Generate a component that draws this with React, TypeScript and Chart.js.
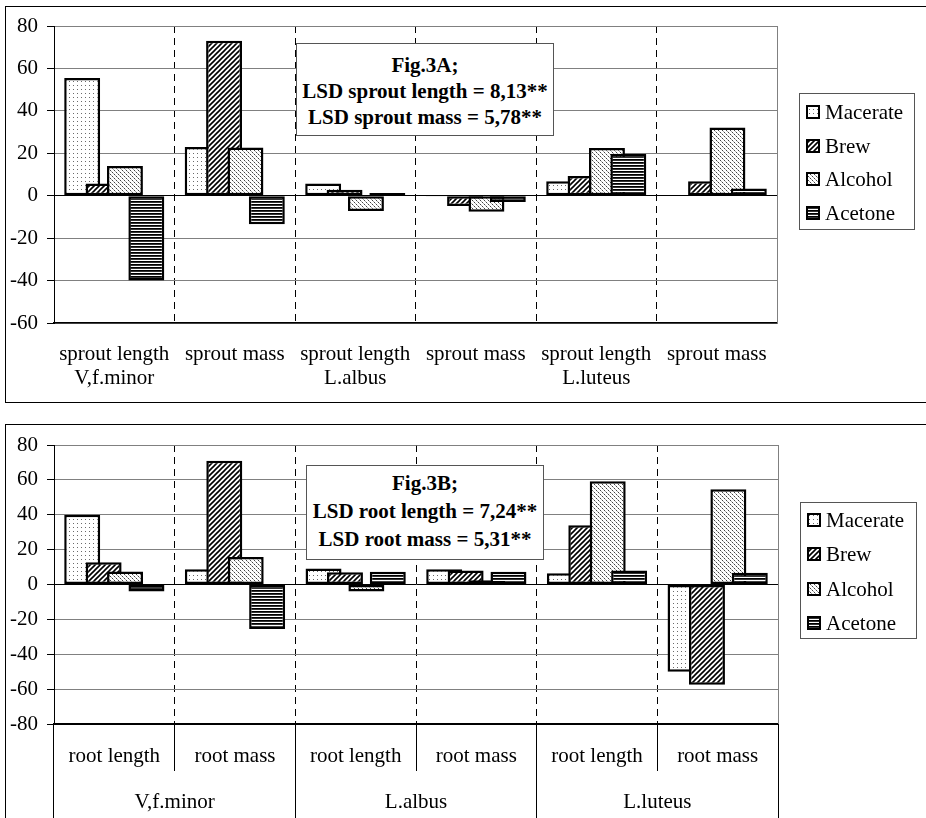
import React, { useEffect, useRef } from 'react';
import { Chart, registerables } from 'chart.js';

Chart.register(...registerables);

// ---------- data ----------
const seriesNames = ['Macerate', 'Brew', 'Alcohol', 'Acetone'];

const topCategories = [
  ['sprout length', 'V,f.minor'],
  ['sprout mass', ''],
  ['sprout length', 'L.albus'],
  ['sprout mass', ''],
  ['sprout length', 'L.luteus'],
  ['sprout mass', ''],
];
const topMacerate = [55.5, 23, 5.8, -0.4, 6.8, 0.3];
const topBrew = [5.8, 73, 2.8, -4.9, 9.3, 6.8];
const topAlcohol = [14, 22.7, -7.2, -7.6, 22.5, 32.2];
const topAcetone = [-40, -13.5, 1.3, -3, 19.8, 3.4];
const topYMin = -60;
const topYMax = 80;
const topNote = ['Fig.3A;', 'LSD sprout length = 8,13**', 'LSD sprout mass = 5,78**'];

const bottomCategories = ['root length', 'root mass', 'root length', 'root mass', 'root length', 'root mass'];
const bottomGroups = ['V,f.minor', 'L.albus', 'L.luteus'];
const bottomMacerate = [40, 8.8, 9.2, 8.8, 6.5, -50];
const bottomBrew = [12.7, 71, 7, 8, 34, -57.5];
const bottomAlcohol = [7.5, 15.8, -4, 2.5, 59.2, 54.6];
const bottomAcetone = [-4, -25.5, 7.3, 7.3, 8, 6.8];
const bottomYMin = -80;
const bottomYMax = 80;
const bottomNote = ['Fig.3B;', 'LSD root length = 7,24**', 'LSD root mass = 5,31**'];

const yStep = 20;

// ---------- styling helpers ----------
const FONT = '"Liberation Serif", "Times New Roman", Times, serif';
const FS = 21;

function makePattern(kind: string): CanvasPattern | string {
  const c = document.createElement('canvas');
  const g = c.getContext('2d');
  if (!g) return '#fff';
  if (kind === 'Macerate') {
    c.width = 4; c.height = 4;
    g.fillStyle = '#fff'; g.fillRect(0, 0, 4, 4);
    g.fillStyle = '#6a6a6a'; g.fillRect(1, 1, 1, 1);
  } else if (kind === 'Brew') {
    c.width = 5; c.height = 5;
    g.fillStyle = '#fff'; g.fillRect(0, 0, 5, 5);
    g.strokeStyle = '#000'; g.lineWidth = 1.6;
    g.beginPath();
    g.moveTo(-1, 6); g.lineTo(6, -1);
    g.moveTo(-1, 1); g.lineTo(1, -1);
    g.moveTo(4, 6); g.lineTo(6, 4);
    g.stroke();
  } else if (kind === 'Alcohol') {
    c.width = 4; c.height = 4;
    g.fillStyle = '#fff'; g.fillRect(0, 0, 4, 4);
    g.fillStyle = '#444';
    g.fillRect(0, 0, 1, 1);
    g.fillRect(2, 2, 1, 1);
    g.fillStyle = '#aaa';
    g.fillRect(1, 1, 1, 1);
    g.fillRect(3, 3, 1, 1);
  } else {
    c.width = 3; c.height = 3;
    g.fillStyle = '#fff'; g.fillRect(0, 0, 3, 3);
    g.fillStyle = '#000'; g.fillRect(0, 0, 3, 1);
    g.fillStyle = '#333'; g.fillRect(0, 1, 3, 1);
  }
  return g.createPattern(c, 'repeat') || '#fff';
}

// draw datasets so that later series lie on top of earlier ones
const drawOrderPlugin = {
  id: 'drawOrder',
  beforeDatasetsDraw(chart: any) {
    const ctx = chart.ctx;
    const a = chart.chartArea;
    ctx.save();
    ctx.beginPath();
    ctx.rect(a.left - 2, a.top - 2, a.right - a.left + 4, a.bottom - a.top + 4);
    ctx.clip();
    for (let i = 0; i < chart.data.datasets.length; i++) {
      const meta = chart.getDatasetMeta(i);
      if (!meta.hidden) meta.controller.draw();
    }
    ctx.restore();
    return false;
  },
};

const plotEdgePlugin = {
  id: 'plotEdge',
  beforeDatasetsDraw(chart: any) {
    const { ctx, chartArea: a } = chart;
    ctx.save();
    ctx.strokeStyle = '#808080';
    ctx.lineWidth = 1;
    ctx.beginPath();
    ctx.moveTo(Math.round(a.right) + 0.5, a.top);
    ctx.lineTo(Math.round(a.right) + 0.5, a.bottom);
    ctx.stroke();
    ctx.restore();
  },
};

const boxLegendPlugin = {
  id: 'boxLegend',
  afterDraw(chart: any, _args: any, opts: any) {
    const { ctx, chartArea: a } = chart;
    const x = Math.round(a.right + opts.gap);
    const y = opts.top;
    ctx.save();
    ctx.fillStyle = '#fff';
    ctx.fillRect(x, y, opts.width, opts.height);
    ctx.strokeStyle = '#555';
    ctx.lineWidth = 1;
    ctx.strokeRect(x + 0.5, y + 0.5, opts.width, opts.height);
    chart.data.datasets.forEach((ds: any, i: number) => {
      const cy = Math.round(y + opts.first + i * opts.step);
      ctx.fillStyle = ds.backgroundColor;
      ctx.fillRect(x + 8, cy - 6, 12, 12);
      ctx.strokeStyle = '#000';
      ctx.lineWidth = 2;
      ctx.strokeRect(x + 8, cy - 6, 12, 12);
      ctx.fillStyle = '#000';
      ctx.font = `${FS}px ${FONT}`;
      ctx.textBaseline = 'middle';
      ctx.textAlign = 'left';
      ctx.fillText(ds.label, x + 26, cy + 1);
    });
    ctx.restore();
  },
};

function makeDatasets(values: number[][], patterns: (CanvasPattern | string)[]) {
  return seriesNames.map((name, i) => ({
    label: name,
    data: values[i],
    backgroundColor: patterns[i],
    borderColor: '#000',
    borderWidth: 2.5,
    borderSkipped: false,
    barPercentage: 1.68,
    categoryPercentage: 0.71,
  }));
}

function yAxis(min: number, max: number) {
  return {
    min,
    max,
    afterFit: (s: any) => { s.width = 54; },
    ticks: {
      stepSize: yStep,
      color: '#000',
      padding: 9,
      font: { family: FONT, size: FS },
    },
    grid: {
      color: (c: any) => (c.tick && c.tick.value === 0 ? '#000' : '#808080'),
      lineWidth: 1,
      tickLength: 7,
      tickColor: '#000',
    },
    border: { color: '#000', width: 1 },
  };
}

const gridEdgeColor = (n: number) => (c: any) => (c.index === 0 || c.index === n ? 'rgba(0,0,0,0)' : '#000');

export default function App() {
  const topRef = useRef<HTMLCanvasElement>(null);
  const botRef = useRef<HTMLCanvasElement>(null);

  useEffect(() => {
    const patterns = seriesNames.map(makePattern);

    const topChart = new Chart(topRef.current as HTMLCanvasElement, {
      type: 'bar',
      data: {
        labels: topCategories,
        datasets: makeDatasets([topMacerate, topBrew, topAlcohol, topAcetone], patterns) as any,
      },
      options: {
        responsive: false,
        animation: false,
        events: [],
        layout: { padding: { top: 26, right: 149, left: 0, bottom: 0 } },
        plugins: {
          legend: { display: false },
          tooltip: { enabled: false },
          boxLegend: { gap: 22, top: 93, width: 115, height: 136, first: 19, step: 33.5 },
        } as any,
        scales: {
          x: {
            afterFit: (s: any) => { s.height = 77; },
            ticks: {
              color: '#000',
              autoSkip: false,
              maxRotation: 0,
              minRotation: 0,
              padding: 20,
              font: { family: FONT, size: FS, lineHeight: 1.12 },
            },
            grid: {
              color: gridEdgeColor(topCategories.length),
              lineWidth: 1,
              drawTicks: false,
            },
            border: { color: '#000', width: 1.5, dash: [7, 5] },
          },
          y: yAxis(topYMin, topYMax),
        } as any,
      },
      plugins: [plotEdgePlugin, drawOrderPlugin, boxLegendPlugin],
    });

    const botChart = new Chart(botRef.current as HTMLCanvasElement, {
      type: 'bar',
      data: {
        labels: bottomCategories,
        datasets: makeDatasets([bottomMacerate, bottomBrew, bottomAlcohol, bottomAcetone], patterns) as any,
      },
      options: {
        responsive: false,
        animation: false,
        events: [],
        layout: { padding: { top: 35, right: 148, left: 0, bottom: 0 } },
        plugins: {
          legend: { display: false },
          tooltip: { enabled: false },
          boxLegend: { gap: 22, top: 92, width: 116, height: 136, first: 18, step: 34.3 },
        } as any,
        scales: {
          x: {
            afterFit: (s: any) => { s.height = 47; },
            ticks: {
              color: '#000',
              autoSkip: false,
              maxRotation: 0,
              minRotation: 0,
              padding: -27,
              font: { family: FONT, size: FS },
            },
            grid: {
              color: gridEdgeColor(bottomCategories.length),
              lineWidth: 1,
              drawTicks: true,
              tickLength: 47,
              tickColor: '#000',
              tickWidth: 1,
              tickBorderDash: [],
            },
            border: { color: '#000', width: 2, dash: [7, 5] },
          },
          x2: {
            type: 'category',
            labels: bottomGroups,
            position: 'bottom',
            offset: true,
            afterFit: (s: any) => { s.height = 47; },
            ticks: {
              color: '#000',
              autoSkip: false,
              maxRotation: 0,
              minRotation: 0,
              padding: -31,
              font: { family: FONT, size: FS },
            },
            grid: {
              offset: true,
              drawOnChartArea: false,
              drawTicks: true,
              tickLength: 50,
              tickColor: '#000',
              tickWidth: 1,
              color: '#000',
            },
            border: { display: false },
          },
          y: yAxis(bottomYMin, bottomYMax),
        } as any,
      },
      plugins: [plotEdgePlugin, drawOrderPlugin, boxLegendPlugin],
    });

    return () => {
      topChart.destroy();
      botChart.destroy();
    };
  }, []);

  const noteStyle = (left: number, top: number, width: number, height: number, lh: number, pt: number): React.CSSProperties => ({
    position: 'absolute',
    left,
    top,
    width,
    height,
    boxSizing: 'border-box',
    border: '1px solid #555',
    background: '#fff',
    fontFamily: FONT,
    fontWeight: 'bold',
    fontSize: FS,
    lineHeight: `${lh}px`,
    paddingTop: pt,
    textAlign: 'center',
    color: '#000',
    whiteSpace: 'nowrap',
  });

  return (
    <div style={{ position: 'absolute', left: 0, top: 0, width: 926, height: 818, overflow: 'hidden', background: '#fff' }}>
      <div style={{ position: 'absolute', left: 5, top: 6, width: 940, height: 397, border: '1px solid #000', boxSizing: 'border-box' }} />
      <div style={{ position: 'absolute', left: 5, top: 424, width: 940, height: 420, border: '1px solid #000', boxSizing: 'border-box' }} />
      <canvas ref={topRef} width={926} height={400} style={{ position: 'absolute', left: 0, top: 0 }} />
      <canvas ref={botRef} width={926} height={408} style={{ position: 'absolute', left: 0, top: 410 }} />
      <div style={noteStyle(296, 43, 258, 93, 26, 8)}>
        {topNote.map((t) => <div key={t}>{t}</div>)}
      </div>
      <div style={noteStyle(306, 465, 238, 95, 28, 3)}>
        {bottomNote.map((t) => <div key={t}>{t}</div>)}
      </div>
    </div>
  );
}
